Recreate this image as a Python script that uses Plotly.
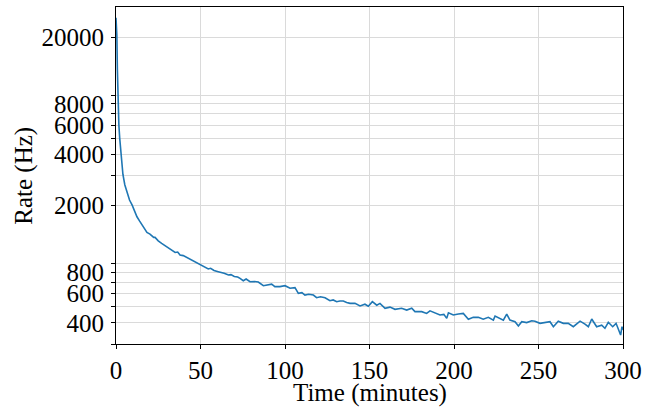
import plotly.graph_objects as go

# Measured count rate over time
time_min = [0, 0.5, 0.8, 1.0, 1.3, 1.7, 2.2, 3.0, 4.1, 5.2, 6.5, 8.0, 9.5, 11.0, 12.4,
            14.0, 15.4, 17.0, 18.3, 20.1, 22.3, 23.1, 25, 27, 29, 31, 33, 35, 36.5, 37.9,
            39.8, 41.5, 43, 44.8, 47, 49.7, 52, 54.6, 56, 58, 60.5, 62, 64, 66.5, 68,
            70, 72, 73.4, 75.3, 77, 79.3, 82, 84.2, 87.2, 90, 92.1, 94, 97, 100, 103,
            105.9, 107.9, 110, 111.8, 114, 116.8, 118.7, 121, 123.7, 126.6, 128.5, 130.6,
            132.5, 134.5, 136.5, 138.5, 141.4, 144.4, 147.3, 149.3, 151.7, 154.3, 156.2,
            159.2, 162.1, 165.1, 169, 172, 175, 176.9, 180.9, 183.8, 185.8, 188.8, 191.7,
            194, 195.7, 196.7, 199.6, 202.6, 205.5, 208.5, 211.4, 214.4, 217.3, 220.3,
            223.3, 224.3, 227.2, 229.2, 231.2, 233.1, 236.1, 238.1, 240.1, 243, 246,
            247.9, 250.9, 253.8, 256.8, 258.8, 261.7, 264.7, 267.6, 270.6, 274.6, 277.5,
            279.5, 281.5, 284.4, 287.4, 289.3, 291.3, 293.9, 295.9, 297.8, 298.6, 299.4, 300]
rate_hz = [26000, 20500, 13000, 9500, 7600, 6000, 5000, 4000, 3050, 2650, 2370, 2150, 2010,
           1850, 1710, 1610, 1528, 1440, 1380, 1350, 1290, 1290, 1230, 1189, 1150, 1110,
           1085, 1050, 1055, 1013, 1005, 985, 960, 946, 920, 892, 870, 837, 845, 820, 807,
           800, 790, 771, 775, 755, 750, 736, 713, 730, 703, 705, 700, 666, 675, 680, 658,
           658, 666, 643, 648, 600, 605, 586, 592, 586, 565, 572, 565, 542, 548, 535, 540,
           540, 530, 523, 523, 505, 517, 503, 535, 510, 523, 489, 497, 482, 489, 477, 489,
           467, 467, 456, 472, 456, 446, 450, 426, 460, 446, 452, 456, 421, 432, 432, 421,
           432, 416, 440, 428, 416, 452, 416, 407, 384, 407, 402, 412, 410, 398, 402, 407,
           380, 410, 398, 398, 380, 410, 394, 380, 422, 380, 388, 372, 404, 380, 398, 358,
           339, 380, 365]

x_ticks = [0, 50, 100, 150, 200, 250, 300]
y_ticks = [300, 400, 500, 600, 700, 800, 900,
           2000, 3000, 4000, 5000, 6000, 7000, 8000, 9000, 20000]
y_labels = ["", "400", "", "600", "", "800", "",
            "2000", "", "4000", "", "6000", "", "8000", "", "20000"]

FONT = "Liberation Serif"
title_font = dict(family=FONT, size=25, color="black")

fig = go.Figure()
fig.add_trace(go.Scatter(x=time_min, y=rate_hz, mode="lines",
                         line=dict(color="#1f77b4", width=1.6), showlegend=False))

axis_common = dict(
    showline=True, linecolor="black", linewidth=1.2, mirror=True,
    ticks="outside", ticklen=4, tickwidth=1, tickcolor="black",
    showgrid=True, gridcolor="#dadada", gridwidth=1, zeroline=False,
    tickfont=dict(family=FONT, size=25, color="black"),
    automargin=False,
)

fig.update_layout(
    width=657, height=407,
    margin=dict(l=116, r=34, t=7, b=63),
    plot_bgcolor="white", paper_bgcolor="white",
    xaxis=dict(range=[0, 300], tickvals=x_ticks, **axis_common),
    yaxis=dict(type="log", range=[2.4771, 4.4793], tickvals=y_ticks, ticktext=y_labels,
               ticklabelstandoff=2, **axis_common),
    annotations=[
        dict(text="Time (minutes)", xref="paper", yref="paper", x=0.5, y=-0.146,
             xanchor="center", yanchor="middle", showarrow=False, font=title_font),
        dict(text="Rate (Hz)", xref="paper", yref="paper", x=-0.183, y=0.5,
             xanchor="center", yanchor="middle", textangle=-90, showarrow=False,
             font=title_font),
    ],
)

fig.write_html("out.html")
